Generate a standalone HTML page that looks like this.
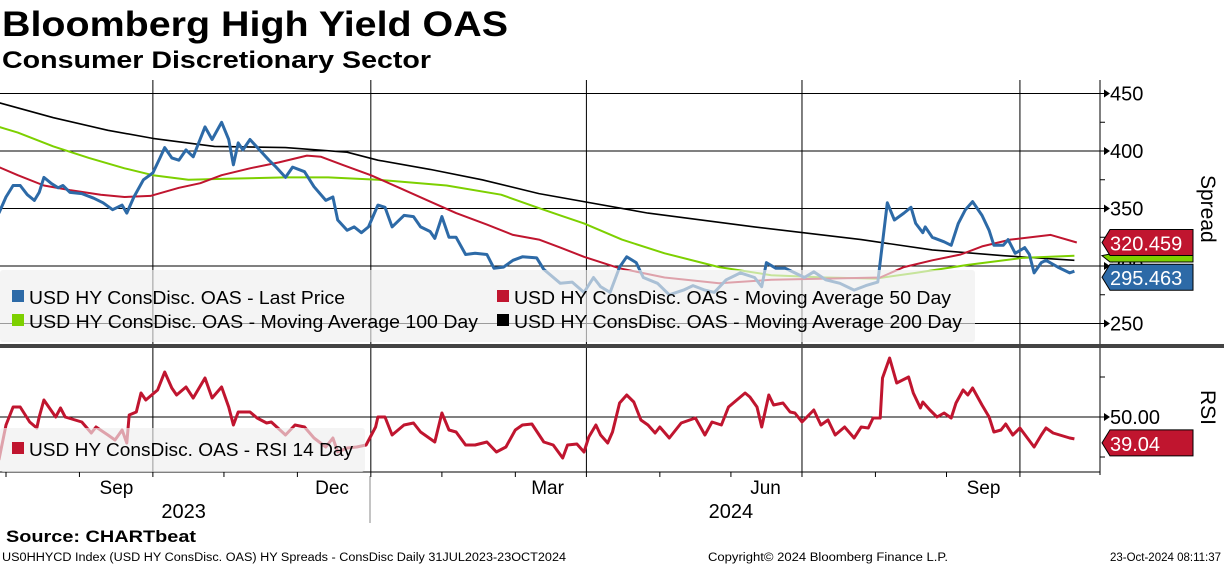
<!DOCTYPE html>
<html><head><meta charset="utf-8">
<style>
body{margin:0;width:1224px;height:566px;background:#fff;overflow:hidden;font-family:"Liberation Sans",sans-serif}
svg{position:absolute;left:0;top:0}
</style></head>
<body>
<svg id="chart" width="1224" height="566" viewBox="0 0 1224 566">
<text x="2" y="36" font-size="35" font-weight="bold" fill="#000" textLength="506" lengthAdjust="spacingAndGlyphs">Bloomberg High Yield OAS</text>
<text x="2" y="68" font-size="24" font-weight="bold" fill="#000" textLength="429" lengthAdjust="spacingAndGlyphs">Consumer Discretionary Sector</text>
<g id="grid"></g>
<g id="series"></g>
<g id="overlay"></g>
</svg>
<script>
const spreadTicks=[450,400,350,300,250];
const rsiTicks=[50];
const monthLabels=[["Sep",31],["Dec",122],["Mar",213],["Jun",305],["Sep",397]];
const yearLabels=[["2023",75],["2024",306]];
const quarterDays=[62,154,245,336,428];
const lastPrice=[[-3,346],[0,360],[3,370],[6,370],[9,362],[12,357],[14,364],[16,377],[19,372],[22,368],[24,370],[27,364],[32,363],[37,359],[41,355],[45,349],[49,353],[51,346],[54,360],[58,375],[62,381],[65,394],[67,403],[70,394],[73,392],[76,401],[79,395],[84,421],[87,410],[91,425],[94,410],[96,388],[98,407],[100,401],[103,410],[107,401],[111,392],[114,386],[118,377],[121,386],[126,382],[130,369],[135,357],[138,360],[140,340],[144,331],[147,334],[150,329],[153,334],[157,353],[160,351],[163,334],[168,344],[172,343],[175,334],[179,330],[181,324],[184,343],[187,325],[190,325],[194,310],[198,311],[203,310],[206,298],[210,299],[214,305],[218,308],[224,307],[227,297],[234,285],[239,286],[244,277],[248,290],[251,282],[255,277],[259,299],[262,308],[266,303],[269,290],[275,285],[280,275],[286,279],[290,283],[295,279],[299,277],[304,288],[310,294],[316,290],[319,282],[321,303],[325,298],[329,298],[333,294],[337,290],[341,295],[346,288],[352,285],[358,279],[363,283],[368,286],[372,355],[375,340],[379,346],[382,351],[384,337],[387,329],[388,334],[391,325],[396,321],[399,318],[402,337],[405,349],[408,356],[412,344],[415,331],[417,318],[421,318],[423,323],[426,311],[430,316],[432,310],[434,294],[437,303],[439,305],[444,299],[449,294],[451,295.463]];
const ma50=[[-3,386],[5,379],[16,370],[27,366],[40,362],[50,360],[61,361],[73,368],[82,372],[91,379],[103,385],[115,390],[127,396],[133,395],[142,388],[154,379],[166,368],[179,356],[190,346],[203,336],[214,327],[225,323],[234,316],[244,308],[259,298],[278,290],[301,285],[323,288],[346,289],[369,290],[379,299],[391,305],[403,310],[412,317],[424,323],[441,327],[452,320.459]];
const ma100=[[-3,421],[5,416],[20,404],[35,394],[50,385],[62,379],[77,375],[95,376],[118,377],[136,377],[157,375],[186,370],[209,362],[224,351],[234,344],[244,337],[260,323],[278,311],[301,299],[323,292],[346,290],[367,289],[384,294],[406,301],[429,307],[451,309]];
const ma200=[[-3,442],[20,429],[43,418],[62,411],[88,404],[118,403],[144,399],[157,392],[179,384],[201,375],[225,363],[271,346],[316,334],[361,323],[391,314],[421,309],[451,305]];
const rsi=[[-3,28.5],[0,46],[3,55],[6,55],[10,47.5],[13,44.5],[14,50],[16,58.5],[21,50],[23,54.5],[25,50],[32,47.5],[36,42],[38,45],[43,41],[46,38.5],[49,43.5],[51,37],[52,51],[55,52.5],[57,62],[59,58.5],[64,63.5],[67,72.5],[70,64.5],[72,61],[76,65],[79,59.5],[84,69.5],[87,59.5],[91,65],[94,55],[96,46],[98,52.5],[103,52.5],[106,49.5],[110,47],[112,47.5],[118,41],[122,46],[126,45],[130,39.5],[135,35],[138,39.5],[140,32.5],[144,34.5],[148,35],[152,36],[156,45],[157,50],[160,50],[163,41],[168,46],[172,47],[175,42.5],[181,37.5],[184,52],[187,43.5],[190,42.5],[194,36],[198,36],[203,37.5],[207,32.5],[211,35],[215,43.5],[218,46],[222,46.5],[227,37.5],[231,36],[235,29.5],[237,36],[241,36.5],[244,32.5],[246,40],[249,46],[251,41],[254,37],[256,42.5],[259,57],[262,61],[265,57.5],[268,48.5],[271,46],[274,42],[276,45],[280,39.5],[285,47],[291,49.5],[295,41],[298,47.5],[302,46],[305,55],[312,62],[314,60],[317,55],[319,45],[322,61],[324,56],[328,57],[331,52.5],[333,52],[336,47.5],[341,53.5],[344,46],[347,48.5],[350,41],[354,45],[358,39.5],[361,45],[364,44.5],[366,49.5],[369,49.5],[370,69.5],[373,79.5],[376,67],[381,70],[383,62],[386,54.5],[387,57.5],[390,53.5],[393,50],[396,52],[399,49.5],[401,57],[404,63.5],[406,61],[408,64.5],[412,56],[415,50],[417,42.5],[420,43.5],[422,46.5],[425,41],[428,44.5],[434,35],[437,41],[439,44.5],[442,42],[449,39.5],[451,39.04]];

const NS="http://www.w3.org/2000/svg";
const X=d=>6+d*2.369;
const YS=v=>266-(v-300)*1.15;
const YR=r=>417-(r-50)*2;
function mk(tag,attrs,parent){const e=document.createElementNS(NS,tag);for(const k in attrs)e.setAttribute(k,attrs[k]);parent.appendChild(e);return e;}
const grid=document.getElementById('grid'),ser=document.getElementById('series'),ov=document.getElementById('overlay');

quarterDays.forEach(d=>{
  const l=mk('line',{x1:X(d),x2:X(d),y1:80,y2:472,stroke:'#000','stroke-width':1},grid);
  
  
});
spreadTicks.forEach(v=>{
  const l=mk('line',{x1:0,x2:1106,y1:YS(v),y2:YS(v),stroke:'#000','stroke-width':1},grid);
  
  
  const a=mk('polygon',{points:`1104,${YS(v)-4} 1110,${YS(v)} 1104,${YS(v)+4}`,fill:'#000'},grid);
  
  
  const t=mk('text',{x:1110,y:YS(v)+7,'font-size':20,fill:'#000'},grid);t.textContent=v;
  
  
});
[425,375,325,275].forEach(v=>{mk('line',{x1:1100,x2:1105,y1:YS(v),y2:YS(v),stroke:'#000'},grid);});
rsiTicks.forEach(r=>{
  const l=mk('line',{x1:0,x2:1106,y1:YR(r),y2:YR(r),stroke:'#000','stroke-width':1},grid);
  
  
  mk('polygon',{points:`1104,${YR(r)-4} 1110,${YR(r)} 1104,${YR(r)+4}`,fill:'#000'},grid);
  const t=mk('text',{x:1110,y:YR(r)+7,'font-size':20,fill:'#000'},grid);t.textContent=r.toFixed(2);
  
  
});
[70,30].forEach(r=>{mk('line',{x1:1100,x2:1105,y1:YR(r),y2:YR(r),stroke:'#000'},grid);});
mk('line',{x1:1100,x2:1100,y1:80,y2:475,stroke:'#000'},grid);
mk('line',{x1:0,x2:1100,y1:472,y2:472,stroke:'#000'},grid);
[0,31,62,92,123,154,184,215,245,276,306,336,367,397,428].forEach(d=>{mk('line',{x1:X(d),x2:X(d),y1:472,y2:477,stroke:'#000'},grid);});
monthLabels.forEach(([m,d])=>{
  const t=mk('text',{x:X(d)+37,y:494,'font-size':19,'text-anchor':'middle',fill:'#000'},grid);t.textContent=m;
  
  
});
yearLabels.forEach(([y,d])=>{
  const t=mk('text',{x:X(d),y:518,'font-size':20,'text-anchor':'middle',fill:'#000'},grid);t.textContent=y;
  
  
});
mk('line',{x1:370,x2:370,y1:476,y2:523,stroke:'#888'},grid);

function path(data,yf,color,w,name){
  const p=mk('path',{d:data.map((p,i)=>(i?'L':'M')+X(p[0]).toFixed(1)+','+yf(p[1]).toFixed(1)).join(''),fill:'none',stroke:color,'stroke-width':w,'stroke-linejoin':'round'},ser);
  
  
}
path(ma200,YS,'#000',1.6,'ma200-line');
path(ma100,YS,'#7dd000',2,'ma100-line');
path(ma50,YS,'#c0152f',2,'ma50-line');
path(lastPrice,YS,'#2d6aa7',3,'last-price-line');
path(rsi,YR,'#c0152f',3,'rsi-line');

const lg=mk('rect',{x:0,y:270,width:975,height:72,fill:'rgba(238,238,238,0.65)',rx:3},ov);


const entries=[['#2d6aa7','USD HY ConsDisc. OAS - Last Price',12,304,316],['#c0152f','USD HY ConsDisc. OAS - Moving Average 50 Day',497,304,437],['#7dd000','USD HY ConsDisc. OAS - Moving Average 100 Day',12,328,449],['#000','USD HY ConsDisc. OAS - Moving Average 200 Day',497,328,448]];
entries.forEach(([c,txt,x,y,w])=>{
  const g=mk('g',{},ov);
  
  
  mk('rect',{x:x,y:y-14,width:12,height:12,fill:c},g);
  const t=mk('text',{x:x+17,y:y,'font-size':18,fill:'#000',textLength:w,lengthAdjust:'spacingAndGlyphs'},g);t.textContent=txt;
});
const lg2=mk('rect',{x:0,y:428,width:365,height:44,fill:'rgba(238,238,238,0.65)',rx:3},ov);


mk('rect',{x:12,y:442,width:12,height:12,fill:'#c0152f'},ov);
const t2=mk('text',{x:29,y:456,'font-size':18,fill:'#000',textLength:324,lengthAdjust:'spacingAndGlyphs'},ov);t2.textContent='USD HY ConsDisc. OAS - RSI 14 Day';



mk('rect',{x:0,y:344,width:1224,height:4,fill:'#444'},ov);

function tag(y,val,color,name){
  const g=mk('g',{},ov);
  
  
  mk('polygon',{points:`1102,${y} 1110,${y-13} 1193,${y-13} 1193,${y+13} 1110,${y+13}`,fill:color,stroke:'#000','stroke-width':1},g);
  const t=mk('text',{x:1110,y:y+8,'font-size':20,fill:'#fff'},g);t.textContent=val;
}
mk('polygon',{points:`1102,${YS(ma100[ma100.length-1][1])} 1110,254 1193,254 1193,262 1110,262`,fill:'#7dd000',stroke:'#000'},ov);
tag(YS(ma50[ma50.length-1][1]),ma50[ma50.length-1][1].toFixed(3),'#c0152f','ma50-value-tag');
tag(YS(lastPrice[lastPrice.length-1][1])+6,lastPrice[lastPrice.length-1][1].toFixed(3),'#2d6aa7','last-price-value-tag');
tag(YR(rsi[rsi.length-1][1])+4,rsi[rsi.length-1][1].toFixed(2),'#c0152f','rsi-value-tag');

const sp=mk('text',{x:1201,y:175,'font-size':21,fill:'#000',transform:'rotate(90 1201 175)'},ov);sp.textContent='Spread';


const rs=mk('text',{x:1201,y:390,'font-size':21,fill:'#000',transform:'rotate(90 1201 390)'},ov);rs.textContent='RSI';



const src=mk('text',{x:6,y:542,'font-size':17,'font-weight':'bold',fill:'#000',textLength:190,lengthAdjust:'spacingAndGlyphs'},ov);src.textContent='Source: CHARTbeat';


const f1=mk('text',{x:2,y:561,'font-size':11.5,fill:'#000',textLength:564,lengthAdjust:'spacingAndGlyphs'},ov);f1.textContent='US0HHYCD Index (USD HY ConsDisc. OAS) HY Spreads - ConsDisc  Daily 31JUL2023-23OCT2024';


const f2=mk('text',{x:708,y:561,'font-size':11.5,fill:'#000',textLength:240,lengthAdjust:'spacingAndGlyphs'},ov);f2.textContent='Copyright© 2024 Bloomberg Finance L.P.';


const f3=mk('text',{x:1221,y:561,'font-size':11.5,fill:'#000','text-anchor':'end'},ov);f3.textContent='23-Oct-2024 08:11:37';


</script>
</body></html>
